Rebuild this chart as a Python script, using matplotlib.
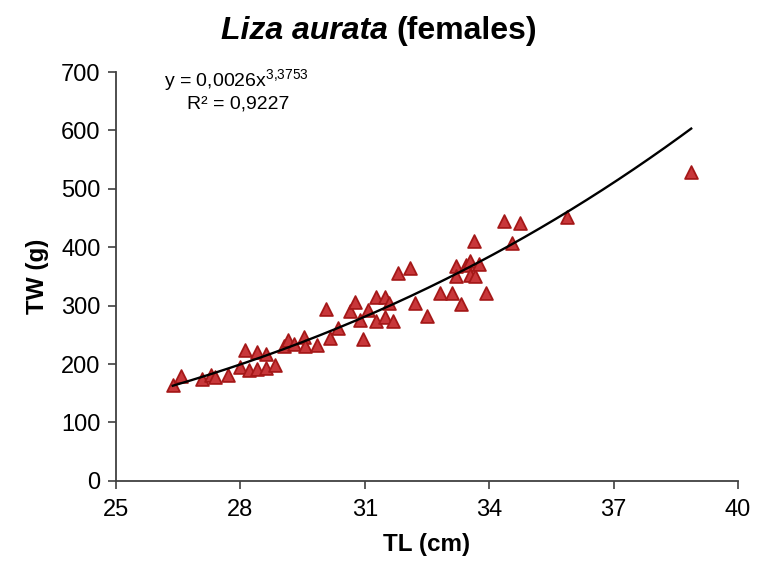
import numpy as np
import matplotlib.pyplot as plt

plt.rcParams['font.family'] = ['Liberation Sans', 'DejaVu Sans']
plt.rcParams['mathtext.fontset'] = 'custom'
plt.rcParams['mathtext.rm'] = 'Liberation Sans'

# Total length (cm) and total weight (g)
tl = [26.37, 26.56, 27.08, 27.29, 27.39, 27.69, 27.99, 28.11, 28.20, 28.40,
      28.40, 28.61, 28.61, 28.83, 29.06, 29.14, 29.29, 29.53, 29.55, 29.84,
      30.16, 30.36, 30.06, 30.64, 30.76, 30.88, 30.96, 31.08, 31.28, 31.28,
      31.48, 31.48, 31.59, 31.68, 31.79, 32.10, 32.20, 32.50, 32.81, 33.11,
      33.21, 33.21, 33.33, 33.43, 33.53, 33.53, 33.65, 33.75, 33.63, 33.93,
      34.35, 34.75, 34.56, 35.87, 38.87]
tw = [164, 180, 174, 181, 177, 181, 195, 224, 190, 220,
      191, 217, 193, 199, 230, 241, 234, 246, 231, 233,
      244, 261, 294, 290, 307, 276, 243, 293, 315, 274,
      315, 281, 305, 274, 355, 364, 305, 282, 321, 321,
      368, 351, 303, 370, 377, 353, 350, 371, 410, 321,
      445, 441, 407, 452, 529]

a_coef = 0.0026
b_coef = 3.3753

fig = plt.figure(figsize=(7.68, 5.67), dpi=100)
ax = fig.add_axes([0.151, 0.152, 0.810, 0.721])

ax.scatter(tl, tw, marker='^', s=85, facecolor='#c8373a', edgecolor='#a51818',
           linewidths=1.3, zorder=2)

xs = np.linspace(min(tl), max(tl), 200)
ax.plot(xs, a_coef * xs ** b_coef, color='black', lw=1.7, zorder=3)

ax.set_xlim(25, 40)
ax.set_ylim(0, 700)
ax.set_xticks([25, 28, 31, 34, 37, 40])
ax.set_yticks(range(0, 701, 100))
ax.tick_params(labelsize=17, length=6, width=1.2, color='#404040')
ax.tick_params(axis='x', pad=7)
ax.tick_params(axis='y', pad=5)
for s in ['top', 'right']:
    ax.spines[s].set_visible(False)
for s in ['left', 'bottom']:
    ax.spines[s].set_color('#404040')
    ax.spines[s].set_linewidth(1.3)

ax.set_xlabel('TL (cm)', fontsize=17.5, fontweight='bold', labelpad=9)
ax.set_ylabel('TW (g)', fontsize=17.5, fontweight='bold', labelpad=9)

# title: italic species name + upright "(females)"
t1 = fig.text(0, 0.945, 'Liza aurata ', fontsize=23, fontweight='bold',
              fontstyle='italic', ha='left', va='center')
t2 = fig.text(0, 0.945, '(females)', fontsize=23, fontweight='bold',
              ha='left', va='center')
r = fig.canvas.get_renderer()
w1 = t1.get_window_extent(r).width / fig.bbox.width
w2 = t2.get_window_extent(r).width / fig.bbox.width
x0 = 379 / 768 - (w1 + w2) / 2
t1.set_x(x0)
t2.set_x(x0 + w1)

fig.text(0.213, 0.857, r'y = 0,0026x$^{3{,}3753}$', fontsize=14, ha='left', va='center')
fig.text(0.243, 0.816, 'R² = 0,9227', fontsize=14, ha='left', va='center')

fig.savefig('out.png', dpi=100)
